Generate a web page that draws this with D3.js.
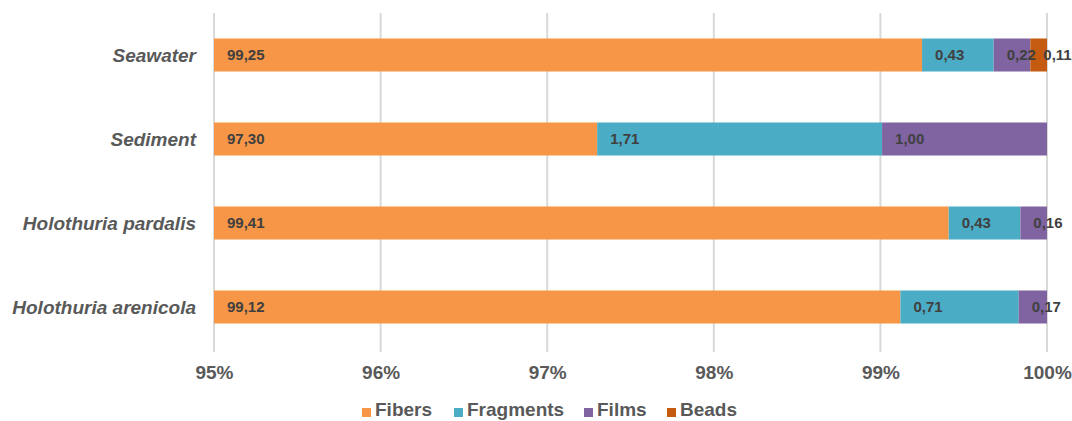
<!DOCTYPE html>
<html>
<head>
<meta charset="utf-8">
<script src="https://cdn.jsdelivr.net/npm/d3@7"></script>
<style>
  body { margin: 0; background: #fff; }
  svg { display: block; }
</style>
</head>
<body>
<svg id="chart" width="1072" height="421"></svg>
<script>
// Sample types, top to bottom
const categories = ["Seawater", "Sediment", "Holothuria pardalis", "Holothuria arenicola"];
// Microplastic shape shares (%) per sample type
const seriesNames = ["Fibers", "Fragments", "Films", "Beads"];
const fibers    = [99.25, 97.30, 99.41, 99.12];
const fragments = [0.43, 1.71, 0.43, 0.71];
const films     = [0.22, 1.00, 0.16, 0.17];
const beads     = [0.11, 0, 0, 0];
const xTicks = [95, 96, 97, 98, 99, 100];

const colors = ["#F79646", "#4BACC6", "#8064A2", "#C55A11"];
const seriesValues = [fibers, fragments, films, beads];

const svg = d3.select("#chart");
const margin = { left: 214, right: 25, top: 13, bottom: 72 };
const W = 1072, H = 421;
const FONT = "Liberation Sans, Arial, sans-serif";

const x = d3.scaleLinear().domain([95, 100]).range([margin.left, W - margin.right]);
const y = d3.scaleBand().domain(categories).range([margin.top, H - margin.bottom])
  .paddingInner(0.607).paddingOuter(0.3035);

// gridlines
svg.append("g").selectAll("line").data(xTicks).join("line")
  .attr("x1", d => x(d)).attr("x2", d => x(d))
  .attr("y1", margin.top).attr("y2", H - margin.bottom + 3)
  .attr("stroke", "#d9d9d9").attr("stroke-width", 2);

// stacked rows
const rows = categories.map((c, i) => {
  let acc = 0;
  return seriesNames.map((s, j) => {
    const v = seriesValues[j][i];
    const seg = { cat: c, series: j, v, x0: acc, x1: acc + v };
    acc += v;
    return seg;
  }).filter(d => d.v > 0);
});
const segs = rows.flat();

const clampX = v => x(Math.max(95, Math.min(100, v)));

svg.append("g").selectAll("rect").data(segs).join("rect")
  .attr("x", d => clampX(d.x0))
  .attr("width", d => Math.max(0, clampX(d.x1) - clampX(d.x0)))
  .attr("y", d => y(d.cat))
  .attr("height", y.bandwidth())
  .attr("fill", d => colors[d.series]);

// value labels
const fmt = v => v.toFixed(2).replace(".", ",");
svg.append("g").selectAll("text").data(segs).join("text")
  .attr("x", d => clampX(d.x0) + 13)
  .attr("y", d => y(d.cat) + y.bandwidth() / 2)
  .attr("dy", "0.36em")
  .attr("font-family", FONT)
  .attr("font-weight", "bold")
  .attr("font-size", 15)
  .attr("fill", "#404040")
  .text(d => fmt(d.v));

// category labels
svg.append("g").selectAll("text").data(categories).join("text")
  .attr("x", margin.left - 18)
  .attr("y", d => y(d) + y.bandwidth() / 2)
  .attr("dy", "0.36em")
  .attr("text-anchor", "end")
  .attr("font-family", FONT)
  .attr("font-weight", "bold")
  .attr("font-style", "italic")
  .attr("font-size", 19)
  .attr("fill", "#595959")
  .text(d => d);

// x axis labels
const xAxis = d3.axisBottom(x).tickValues(xTicks).tickSize(0).tickFormat(d => d + "%");
const gx = svg.append("g").attr("transform", `translate(0, ${H - margin.bottom + 13})`).call(xAxis);
gx.select(".domain").remove();
gx.selectAll("text")
  .attr("font-family", FONT)
  .attr("font-weight", "bold")
  .attr("font-size", 19)
  .attr("fill", "#595959");

// legend
const legendX = [362, 454, 584, 667];
const lg = svg.append("g").selectAll("g").data(seriesNames).join("g")
  .attr("transform", (d, i) => `translate(${legendX[i]}, 416)`);
lg.append("rect").attr("x", 0).attr("y", -8).attr("width", 9).attr("height", 9)
  .attr("fill", (d, i) => colors[i]);
lg.append("text").attr("x", 13).attr("y", 0)
  .attr("font-family", FONT)
  .attr("font-weight", "bold")
  .attr("font-size", 19)
  .attr("fill", "#595959")
  .text(d => d);
</script>
</body>
</html>
